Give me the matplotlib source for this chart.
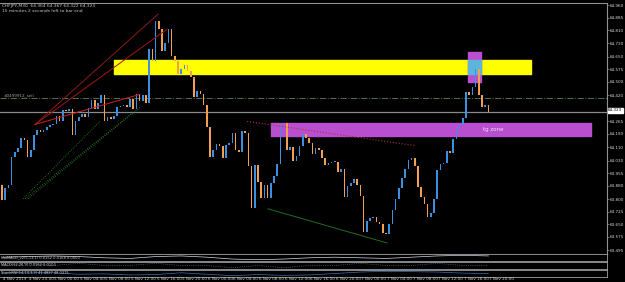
import numpy as np
import matplotlib
matplotlib.use("Agg")
import matplotlib.pyplot as plt

# CHFJPY M30 -- bars (close of each bar, open = previous close)
first_open = 63.886
closes = [
    63.796, 63.868, 63.886, 64.054, 64.084, 64.108, 64.168, 64.156, 64.054, 64.096,
    64.186, 64.216, 64.204, 64.216, 64.228, 64.240, 64.246, 64.294, 64.264, 64.330,
    64.324, 64.336, 64.186, 64.264, 64.288, 64.306, 64.288, 64.342, 64.390, 64.336,
    64.372, 64.420, 64.264, 64.288, 64.276, 64.294, 64.348, 64.354, 64.360, 64.348,
    64.396, 64.336, 64.426, 64.384, 64.420, 64.372, 64.696, 64.624, 64.864, 64.816,
    64.684, 64.732, 64.816, 64.654, 64.624, 64.546, 64.576, 64.600, 64.564, 64.528,
    64.408, 64.444, 64.426, 64.360, 64.228, 64.054, 64.096, 64.132, 64.120, 64.048,
    64.126, 64.138, 64.198, 64.096, 64.084, 64.210, 64.198, 64.000, 63.748, 64.006,
    63.904, 63.808, 63.886, 63.808, 63.898, 63.940, 64.012, 64.240, 64.252, 64.096,
    64.114, 64.030, 64.060, 64.120, 64.192, 64.168, 64.138, 64.072, 64.108, 64.096,
    64.048, 64.006, 64.018, 64.024, 64.024, 63.964, 63.982, 63.814, 63.880, 63.898,
    63.922, 63.886, 63.820, 63.604, 63.670, 63.688, 63.694, 63.664, 63.652, 63.598,
    63.592, 63.652, 63.736, 63.802, 63.868, 63.928, 63.982, 64.036, 64.048, 64.000,
    63.874, 63.814, 63.772, 63.694, 63.718, 63.802, 63.976, 64.012, 64.018, 64.090,
    64.078, 64.162, 64.222, 64.240, 64.282, 64.438, 64.420, 64.468, 64.576, 64.420,
    64.348, 64.360, 64.323,
]

price_ticks = [64.960, 64.885, 64.810, 64.730, 64.650, 64.575, 64.500, 64.420,
               64.265, 64.190, 64.110, 64.030, 63.955, 63.880, 63.800, 63.725,
               63.650, 63.575, 63.495]
time_labels = ["4 Nov 2019", "4 Nov 20:00", "5 Nov 00:00", "5 Nov 04:00", "5 Nov 08:00",
               "5 Nov 12:00", "5 Nov 16:00", "5 Nov 20:00", "6 Nov 00:00", "6 Nov 04:00",
               "6 Nov 08:00", "6 Nov 12:00", "6 Nov 16:00", "6 Nov 20:00", "7 Nov 00:00",
               "7 Nov 04:00", "7 Nov 08:00", "7 Nov 12:00", "7 Nov 16:00", "7 Nov 20:00"]
bars_per_label = 8

# chart objects: (bar, price) pairs
red_lines = [((10.3, 64.246), (48.8, 64.906)),
             ((10.3, 64.246), (51.6, 64.816)),
             ((10.3, 64.246), (43.1, 64.426))]
green_dotted = [((6.6, 63.802), (30.6, 64.264)),
                ((7.2, 63.802), (40.9, 64.318)),
                ((8.1, 63.802), (43.1, 64.348))]
red_dotted = ((76.6, 64.264), (129.1, 64.120))
green_solid = ((83.1, 63.742), (120.3, 63.538))
supply_zone = (35.0, 165.3, 64.546, 64.630)
tp_zone = (84.0, 184.0, 64.180, 64.252)
small_box = (145.6, 149.7, 64.498, 64.678)
sell_level = 64.402
bid = 64.323

# indicator windows (one value every 8 bars)
ind1_vals = [0.01, 0.02, 0.03, 0.02, 0.0, -0.01, 0.02, 0.03, 0.01, -0.02,
             -0.03, -0.02, 0.0, 0.01, 0.0, -0.01, 0.01, 0.03, 0.04, 0.03]
ind2_vals = [0.0, 0.01, 0.0, 0.01, 0.0, 0.0, 0.01, 0.0, 0.0, -0.01,
             0.0, -0.01, 0.0, 0.0, 0.01, 0.0, 0.0, 0.01, 0.0, 0.0]
ind3_vals = [55, 70, 60, 40, 45, 30, 35, 60, 40, 20,
             35, 25, 30, 50, 70, 80, 75, 70, 55, 50]

W, H = 625, 282
def rect(x0, y0, x1, y1):
    return [x0 / W, 1 - y1 / H, (x1 - x0) / W, (y1 - y0) / H]

fig = plt.figure(figsize=(6.25, 2.82), dpi=100, facecolor="black")
ax = fig.add_axes(rect(0, 3, 607, 254))
ax.set_facecolor("black")

n = len(closes)
x = np.arange(n)
opens = np.array([first_open] + closes[:-1])
c = np.array(closes)
up = c >= opens
bottoms = np.minimum(opens, c)
heights = np.maximum(np.abs(c - opens), 0.004)

# zones first, bars on top
x0, x1, p0, p1 = supply_zone
ax.fill_between([x0, x1], p0, p1, color="#ffff00", zorder=1)
x0, x1, p0, p1 = tp_zone
ax.fill_between([x0, x1], p0, p1, color="#b94fd0", zorder=1)
ax.text(150.3, (p0 + p1) / 2, "tg zone", color="#f2dcf5", fontsize=4, va="center", zorder=5)
x0, x1, p0, p1 = small_box
ax.fill_between([x0, x1], p0, p1, color="#b94fd0", zorder=1)
ax.fill_between([x0, x1], supply_zone[2], supply_zone[3], color="#5fb4dc", zorder=1.5)

ax.axhline(sell_level, color="#4f6f4f", lw=0.7, ls="-.", zorder=2)
ax.text(0.5, sell_level + 0.01, "#0499912_sell", color="#a0a0a0", fontsize=3, zorder=5)
ax.axhline(bid, color="#8a8a8a", lw=0.9, zorder=2)

ax.bar(x[up], heights[up], bottom=bottoms[up], width=0.5, color="#3d8fe0", zorder=3)
ax.bar(x[~up], heights[~up], bottom=bottoms[~up], width=0.5, color="#f0a050", zorder=3)

for (a, b), col in zip(red_lines, ["#8b1a1a", "#a31515", "#cc2222"]):
    ax.plot([a[0], b[0]], [a[1], b[1]], color=col, lw=0.7, zorder=4)
for a, b in green_dotted:
    ax.plot([a[0], b[0]], [a[1], b[1]], color="#2e8b2e", lw=0.6, ls=":", zorder=4)
a, b = red_dotted
ax.plot([a[0], b[0]], [a[1], b[1]], color="#b03030", lw=0.8, ls=":", zorder=4)
a, b = green_solid
ax.plot([a[0], b[0]], [a[1], b[1]], color="#1f6b1f", lw=0.7, zorder=4)

xmin, xmax = -0.625, 189.06
ax.set_xlim(xmin, xmax)
ax.set_ylim(63.472, 64.972)
ax.yaxis.tick_right()
ax.set_yticks(price_ticks)
ax.set_yticklabels([f"{p:.3f}" for p in price_ticks])
ax.tick_params(axis="y", colors="#909090", labelcolor="#d8d8d8", labelsize=3.0,
               length=1.5, width=0.5, pad=0.8)
ax.set_xticks([])
ax.spines["left"].set_visible(False)
for s in ["top", "right", "bottom"]:
    ax.spines[s].set_color("#909090")
    ax.spines[s].set_linewidth(0.8)

ax.text(608 / W, 1 - 110 / H, f"{bid:.3f}", transform=fig.transFigure, fontsize=3.0,
        color="black", va="center", ha="left",
        bbox=dict(boxstyle="square,pad=0.12", fc="white", ec="white"))

fig.text(2 / W, 1 - 6 / H, "CHFJPY,M30  64.364 64.367 64.322 64.323", color="#c8c8c8",
         fontsize=3.2, va="center")
fig.text(2 / W, 1 - 11 / H, "15 minutes 2 seconds left to bar end", color="#c8c8c8",
         fontsize=3.2, va="center")

# indicator windows
ix = np.arange(len(ind1_vals)) * bars_per_label
panels = [
    (rect(0, 254, 607, 261), ind1_vals, "UniMACD_v2(5,13,1) 0.0152 0.0168 0.0000", "#d0d8e8", "-"),
    (rect(0, 262, 607, 269), ind2_vals, "MACD(12,26,9) 0.0162 0.0103", "#5a7fa8", ":"),
    (rect(0, 270, 607, 277), ind3_vals, "StochRSI(14,14,3,3) 41.4827 48.0375", "#3d6fb0", "-"),
]
for pos, vals, label, col, ls in panels:
    a2 = fig.add_axes(pos)
    a2.set_facecolor("black")
    a2.plot(ix, vals, color=col, lw=0.5, ls=ls)
    a2.set_xlim(xmin, xmax)
    lo, hi = min(vals), max(vals)
    pad = (hi - lo) * 0.3 + 1e-6
    a2.set_ylim(lo - pad, hi + pad)
    a2.set_xticks([])
    a2.set_yticks([])
    for s in a2.spines.values():
        s.set_color("#a0a0a0")
        s.set_linewidth(0.6)
    a2.spines["left"].set_visible(False)
    a2.text(0.002, 0.5, label, transform=a2.transAxes, fontsize=2.6, color="#d0d0d0",
            va="center")

# time axis labels under the last window
for k, lab in enumerate(time_labels):
    bx = k * bars_per_label
    xf = (bx - xmin) / (xmax - xmin) * 607 / W
    fig.text(xf + 1 / W, 1 - 279.5 / H, lab, color="#d0d0d0", fontsize=3.0, va="center")

fig.savefig("out.png", dpi=100, facecolor="black")
